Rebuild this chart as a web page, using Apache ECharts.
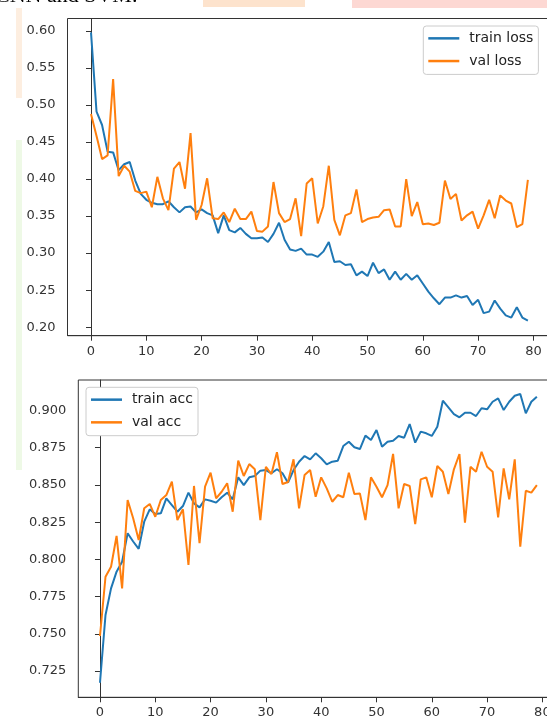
<!DOCTYPE html>
<html><head><meta charset="utf-8">
<script src="https://cdn.jsdelivr.net/npm/echarts@6/dist/echarts.min.js"></script>
<style>html,body{margin:0;padding:0;background:#fff;}#c{width:547px;height:718px;}</style>
</head><body><div id="c"></div>
<script>
const trainLoss = [0.598,0.491,0.473,0.437,0.436,0.412,0.420,0.423,0.398,0.380,
0.372,0.368,0.366,0.366,0.370,0.362,0.355,0.362,0.363,0.355,
0.359,0.354,0.351,0.327,0.351,0.331,0.328,0.334,0.326,0.320,
0.320,0.321,0.315,0.326,0.341,0.318,0.305,0.303,0.306,0.298,
0.298,0.295,0.302,0.315,0.288,0.289,0.284,0.285,0.270,0.275,
0.269,0.287,0.273,0.278,0.264,0.275,0.264,0.272,0.264,0.270,
0.259,0.248,0.239,0.231,0.240,0.240,0.243,0.240,0.242,0.230,
0.237,0.219,0.221,0.236,0.225,0.216,0.213,0.227,0.213,0.209];
const valLoss = [0.488,0.458,0.427,0.432,0.535,0.404,0.418,0.410,0.384,0.381,
0.383,0.362,0.403,0.374,0.358,0.414,0.423,0.387,0.462,0.345,
0.365,0.401,0.347,0.346,0.355,0.342,0.360,0.346,0.346,0.356,
0.330,0.329,0.336,0.396,0.354,0.342,0.346,0.374,0.323,0.394,
0.401,0.340,0.363,0.418,0.345,0.324,0.351,0.354,0.386,0.342,
0.346,0.348,0.349,0.358,0.359,0.336,0.336,0.400,0.350,0.369,
0.339,0.340,0.338,0.341,0.398,0.373,0.380,0.344,0.351,0.356,
0.333,0.351,0.372,0.347,0.378,0.371,0.367,0.335,0.339,0.399];
const trainAcc = [0.7171,0.7626,0.7805,0.7917,0.7984,0.8175,0.8120,0.8070,0.8253,0.8336,
0.8304,0.8309,0.8410,0.8365,0.8320,0.8358,0.8448,0.8376,0.8349,0.8403,
0.8394,0.8381,0.8417,0.8448,0.8403,0.8551,0.8499,0.8551,0.8560,0.8596,
0.8600,0.8578,0.8605,0.8578,0.8515,0.8600,0.8656,0.8694,0.8672,0.8712,
0.8679,0.8638,0.8656,0.8663,0.8761,0.8790,0.8753,0.8741,0.8831,0.8802,
0.8869,0.8757,0.8790,0.8797,0.8829,0.8817,0.8909,0.8784,0.8858,0.8847,
0.8829,0.8891,0.9066,0.9021,0.8976,0.8954,0.8985,0.8985,0.8963,0.9015,
0.9008,0.9059,0.9082,0.9003,0.9059,0.9099,0.9111,0.8981,0.9059,0.9093];
const valAcc = [0.7485,0.7883,0.7950,0.8157,0.7805,0.8399,0.8276,0.8130,0.8343,0.8372,
0.8286,0.8399,0.8432,0.8522,0.8264,0.8336,0.7962,0.8493,0.8108,0.8488,
0.8582,0.8410,0.8454,0.8511,0.8320,0.8663,0.8560,0.8640,0.8605,0.8264,
0.8622,0.8573,0.8720,0.8506,0.8520,0.8672,0.8343,0.8567,0.8600,0.8421,
0.8551,0.8477,0.8387,0.8432,0.8417,0.8582,0.8439,0.8443,0.8264,0.8551,
0.8488,0.8417,0.8499,0.8708,0.8343,0.8506,0.8493,0.8237,0.8537,0.8551,
0.8417,0.8627,0.8589,0.8439,0.8605,0.8708,0.8246,0.8622,0.8589,0.8723,
0.8622,0.8589,0.8282,0.8611,0.8403,0.8672,0.8085,0.8461,0.8448,0.8499];
const xTicks = [0,10,20,30,40,50,60,70,80];
const lossTicks = [0.20,0.25,0.30,0.35,0.40,0.45,0.50,0.55,0.60];
const accTicks = [0.725,0.750,0.775,0.800,0.825,0.850,0.875,0.900];
const lossLegend = ['train loss','val loss'];
const accLegend = ['train acc','val acc'];
const headerText = 'CNN and SVM.';

const BLUE = '#1f77b4', ORANGE = '#ff7f0e', INK = '#333';
const FONT = '"DejaVu Sans", sans-serif';
const pairs = arr => arr.map((v, i) => [i, v]);

function xAxis(gi, min, max) {
  return {
    type: 'value', gridIndex: gi, min, max,
    axisLine: { show: true, lineStyle: { color: INK, width: 1 } },
    axisTick: { show: true, customValues: xTicks, length: 5, lineStyle: { color: INK } },
    axisLabel: { customValues: xTicks, margin: 9, fontSize: 13, color: INK, fontFamily: FONT },
    splitLine: { show: false }
  };
}
function yAxis(gi, min, max, ticks, dec) {
  return {
    type: 'value', gridIndex: gi, min, max,
    axisLine: { show: true, lineStyle: { color: INK, width: 1 } },
    axisTick: { show: true, customValues: ticks, length: 5, lineStyle: { color: INK } },
    axisLabel: { customValues: ticks, margin: 12, fontSize: 13, color: INK, fontFamily: FONT,
      formatter: v => v.toFixed(dec) },
    splitLine: { show: false }
  };
}
function legend(names, left, top) {
  return {
    data: names, left, top, orient: 'vertical', icon: 'rect',
    itemWidth: 31, itemHeight: 2.5, itemGap: 0, selectedMode: false,
    padding: [1, 5, 2, 5],
    backgroundColor: '#fff', borderColor: '#ccc', borderWidth: 1, borderRadius: 3,
    textStyle: { fontSize: 14, color: '#222', fontFamily: FONT, lineHeight: 22.7, padding: [0, 0, 0, 5] }
  };
}
function line(name, data, gi, color) {
  return { type: 'line', name, data: pairs(data), xAxisIndex: gi, yAxisIndex: gi,
    showSymbol: false, symbol: 'none', lineStyle: { color, width: 2 }, itemStyle: { color }, z: 3 };
}

const chart = echarts.init(document.getElementById('c'), null, { renderer: 'canvas' });
chart.setOption({
  animation: false,
  backgroundColor: '#fff',
  grid: [
    { left: 67.5, top: 18.5, width: 483.6, height: 317.2, show: true, borderColor: INK, borderWidth: 1, outerBoundsMode: 'none' },
    { left: 78.3, top: 380, width: 480.4, height: 317.3, show: true, borderColor: INK, borderWidth: 1, outerBoundsMode: 'none' }
  ],
  xAxis: [xAxis(0, -4.25, 83.2), xAxis(1, -3.92, 82.95)],
  yAxis: [yAxis(0, 0.1885, 0.6168, lossTicks, 2), yAxis(1, 0.7073, 0.9205, accTicks, 3)],
  legend: [legend(lossLegend, 423.3, 26), legend(accLegend, 86, 387.3)],
  series: [
    line(lossLegend[0], trainLoss, 0, BLUE),
    line(lossLegend[1], valLoss, 0, ORANGE),
    line(accLegend[0], trainAcc, 1, BLUE),
    line(accLegend[1], valAcc, 1, ORANGE)
  ],
  graphic: [
    { type: 'rect', shape: { x: 203, y: 0, width: 102, height: 7 }, style: { fill: '#fde3cd' }, silent: true },
    { type: 'rect', shape: { x: 352, y: 0, width: 195, height: 8 }, style: { fill: '#fdd8d3' }, silent: true },
    { type: 'rect', shape: { x: 16, y: 8, width: 6, height: 90 }, style: { fill: '#fdeee0' }, silent: true },
    { type: 'rect', shape: { x: 16, y: 140, width: 6, height: 330 }, style: { fill: '#eef9e6' }, silent: true },
    { type: 'text', x: -5, y: 7, style: { text: headerText, font: '22px "Liberation Serif", serif', fill: '#000',
      textAlign: 'left', textVerticalAlign: 'bottom' }, silent: true }
  ]
});
</script></body></html>
